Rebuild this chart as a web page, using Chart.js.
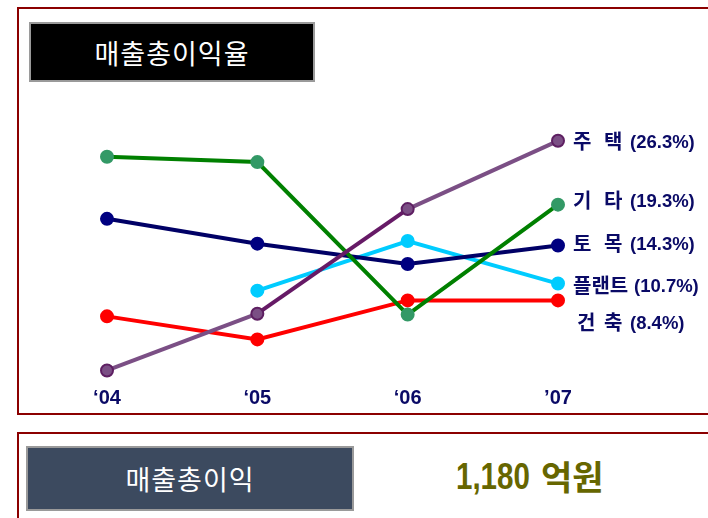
<!DOCTYPE html>
<html>
<head>
<meta charset="utf-8">
<script src="https://cdn.jsdelivr.net/npm/chart.js@4/dist/chart.umd.min.js"></script>
<style>
  html, body { margin: 0; padding: 0; background: #fff; overflow: hidden; }
  body { width: 708px; height: 518px; position: relative; font-family: 'Noto Sans CJK KR', sans-serif; }
  .frame { position: absolute; border: 2px solid #8B0000; box-sizing: border-box; }
  .box { position: absolute; box-sizing: border-box; border: 2px solid #9a9a9a; color: #fff;
         display: flex; align-items: center; justify-content: center; font-size: 27px; letter-spacing: 1px; }
  #total { position: absolute; left: 456px; top: 455px; color: #666600; white-space: nowrap; line-height: 44px; }
  #total .num { display: inline-block; font-family: 'Liberation Sans', Arial, sans-serif; font-weight: 700;
                font-size: 36px; transform: scaleX(0.82); transform-origin: left center; }
  #total .unit { position: absolute; left: 85px; top: -1px; font-family: 'Noto Sans CJK KR', sans-serif;
                 font-weight: 700; font-size: 34px; }
  #chartWrap { position: absolute; left: 0; top: 0; width: 708px; height: 518px; }
</style>
</head>
<body>
<div class="frame" style="left:17px; top:7px; width:720px; height:408px;"></div>
<div class="frame" style="left:17px; top:432px; width:720px; height:120px;"></div>
<div class="box" style="left:29px; top:22px; width:286px; height:60px; background:#000;">매출총이익율</div>
<div class="box" style="left:26px; top:446px; width:328px; height:65px; background:#3c4a5f;">매출총이익</div>
<div id="total"><span class="num">1,180</span><span class="unit">억원</span></div>
<div id="chartWrap"><canvas id="myChart" width="708" height="518"></canvas></div>

<script>
// 매출총이익율 by business unit (%)
const years = ['\u201804', '\u201805', '\u201806', '\u201907'];
const housing  = [0.4, 6.8, 18.6, 26.3];   // 주택
const other    = [24.5, 23.9, 6.7, 19.1];  // 기타
const civil    = [17.5, 14.7, 12.4, 14.5]; // 토목
const plant    = [null, 9.4, 15.0, 10.2];  // 플랜트
const building = [6.5, 3.9, 8.3, 8.3];     // 건축
const seriesNames = ['주택', '기타', '토목', '플랜트', '건축'];
const latestLabels = ['(26.3%)', '(19.3%)', '(14.3%)', '(10.7%)', '(8.4%)'];

const NAVY = '#0a0a66';

// label nudges, keyed by series
const labelDy = { '주택': 1, '기타': -4, '토목': -2, '플랜트': 2, '건축': 22 };

const endLabels = {
    id: 'endLabels',
    afterDatasetsDraw(chart) {
        const { ctx } = chart;
        ctx.save();
        ctx.fillStyle = NAVY;
        ctx.textBaseline = 'middle';
        ctx.textAlign = 'left';
        chart.data.datasets.forEach((ds, i) => {
            const meta = chart.getDatasetMeta(i);
            const pt = meta.data[meta.data.length - 1];
            const name = seriesNames[i];
            const x0 = pt.x + 15;
            const y = pt.y + labelDy[name];
            ctx.font = 'bold 20px "Noto Sans CJK KR", sans-serif';
            let px;
            if (name.length === 2) {
                ctx.fillText(name[0], x0 + (name === '건축' ? 4 : 0), y);
                ctx.fillText(name[1], x0 + 31, y);
                px = x0 + 57;
            } else {
                ctx.fillText(name, x0, y);
                px = x0 + 61;
            }
            ctx.font = 'bold 18.5px "Liberation Sans", Arial, sans-serif';
            ctx.fillText(latestLabels[i], px, y + 1);
        });
        ctx.restore();
    }
};

function series(label, data, line, fill, border) {
    return {
        label, data,
        borderColor: line, borderWidth: 4,
        pointBackgroundColor: fill, pointBorderColor: border,
        pointBorderWidth: 2, pointRadius: 6, pointHoverRadius: 6,
        tension: 0, spanGaps: false, clip: false,
    };
}

const housingSet = series('주택', housing, '#7b4f85', '#7b4f85', '#5e1f62');
housingSet.segment = { borderColor: c => c.p0DataIndex === 1 ? '#661a66' : undefined };

new Chart(document.getElementById('myChart'), {
    type: 'line',
    data: {
        labels: years,
        datasets: [
            housingSet,
            series('기타', other, '#008000', '#339966', '#339966'),
            series('토목', civil, '#000066', '#000080', '#000080'),
            series('플랜트', plant, '#00ccff', '#00ccff', '#00ccff'),
            series('건축', building, '#ff0000', '#ff0000', '#ff0000'),
        ]
    },
    options: {
        responsive: false,
        animation: false,
        events: [],
        layout: { autoPadding: false, padding: { left: 107, right: 150, top: 108, bottom: 96 } },
        scales: {
            x: {
                grid: { display: false, drawTicks: false },
                border: { display: false },
                ticks: { color: NAVY, padding: 12, font: { family: '"Liberation Sans", Arial, sans-serif', size: 20, weight: 'bold' } }
            },
            y: { display: false, min: 0, max: 30 }
        },
        plugins: { legend: { display: false }, tooltip: { enabled: false } }
    },
    plugins: [endLabels]
});
</script>
</body>
</html>
